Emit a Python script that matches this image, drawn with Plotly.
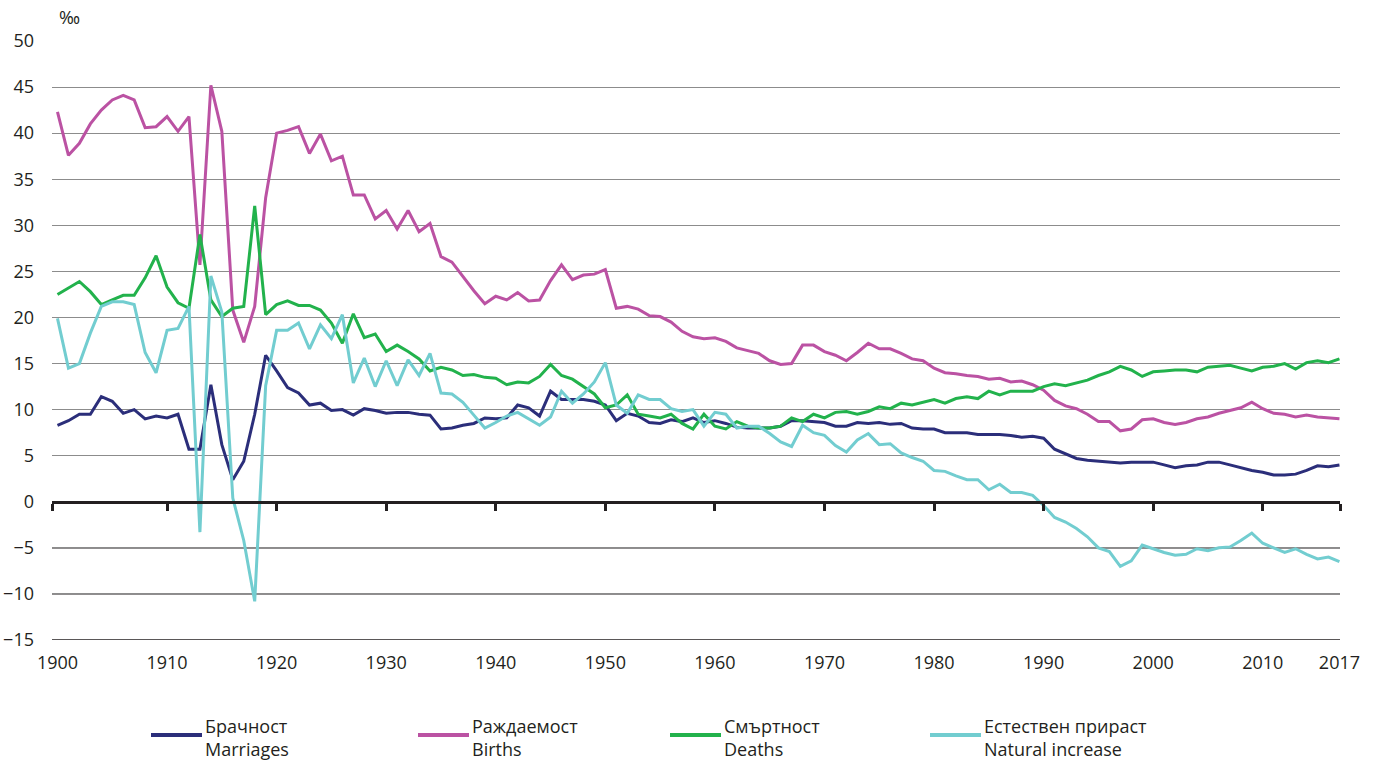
import plotly.graph_objects as go

years = list(range(1900, 2018))

marriages = [
    8.3, 8.8, 9.5, 9.5, 11.4, 10.9, 9.6, 10.0, 9.0, 9.3, 9.1, 9.5, 5.7, 5.7, 12.7, 6.2, 2.4, 4.4, 9.5, 15.9, 14.2,
    12.4, 11.8, 10.5, 10.7, 9.9, 10.0, 9.4, 10.1, 9.9, 9.6, 9.7, 9.7, 9.5, 9.4, 7.9, 8.0, 8.3, 8.5, 9.1, 9.0,
    9.1, 10.5, 10.2, 9.3, 12.0, 11.1, 11.1, 11.1, 10.9, 10.5, 8.8, 9.6, 9.3, 8.6, 8.5, 8.9, 8.7, 9.1, 8.6, 8.8,
    8.5, 8.1, 8.0, 8.0, 8.0, 8.2, 8.8, 8.8, 8.7, 8.6, 8.2, 8.2, 8.6, 8.5, 8.6, 8.4, 8.5, 8.0, 7.9, 7.9,
    7.5, 7.5, 7.5, 7.3, 7.3, 7.3, 7.2, 7.0, 7.1, 6.9, 5.7, 5.2, 4.7, 4.5, 4.4, 4.3, 4.2, 4.3, 4.3, 4.3,
    4.0, 3.7, 3.9, 4.0, 4.3, 4.3, 4.0, 3.7, 3.4, 3.2, 2.9, 2.9, 3.0, 3.4, 3.9, 3.8, 4.0,
]

births = [
    42.3, 37.6, 38.9, 41.0, 42.5, 43.6, 44.1, 43.6, 40.6, 40.7, 41.8, 40.2, 41.8, 25.7, 45.2, 40.2, 20.8, 17.3, 21.2, 33.0, 40.0,
    40.3, 40.7, 37.8, 39.9, 37.0, 37.5, 33.3, 33.3, 30.7, 31.6, 29.6, 31.6, 29.3, 30.2, 26.6, 26.0, 24.4, 22.9, 21.5, 22.3,
    21.9, 22.7, 21.8, 21.9, 24.0, 25.7, 24.1, 24.6, 24.7, 25.2, 21.0, 21.2, 20.9, 20.2, 20.1, 19.5, 18.5, 17.9, 17.7, 17.8,
    17.4, 16.7, 16.4, 16.1, 15.3, 14.9, 15.0, 17.0, 17.0, 16.3, 15.9, 15.3, 16.2, 17.2, 16.6, 16.6, 16.1, 15.5, 15.3, 14.5,
    14.0, 13.9, 13.7, 13.6, 13.3, 13.4, 13.0, 13.1, 12.7, 12.1, 11.0, 10.4, 10.1, 9.5, 8.7, 8.7, 7.7, 7.9, 8.9, 9.0,
    8.6, 8.4, 8.6, 9.0, 9.2, 9.6, 9.9, 10.2, 10.8, 10.1, 9.6, 9.5, 9.2, 9.4, 9.2, 9.1, 9.0,
]

deaths = [
    22.5, 23.2, 23.9, 22.8, 21.4, 21.9, 22.4, 22.4, 24.3, 26.7, 23.3, 21.6, 21.0, 29.0, 21.9, 20.1, 21.0, 21.2, 32.1, 20.3, 21.4,
    21.8, 21.3, 21.3, 20.8, 19.4, 17.2, 20.4, 17.8, 18.2, 16.3, 17.0, 16.3, 15.5, 14.2, 14.6, 14.3, 13.7, 13.8, 13.5, 13.4,
    12.7, 13.0, 12.9, 13.6, 14.9, 13.7, 13.3, 12.5, 11.7, 10.2, 10.5, 11.6, 9.5, 9.3, 9.1, 9.5, 8.5, 7.9, 9.5, 8.2,
    7.9, 8.7, 8.2, 8.0, 8.0, 8.2, 9.1, 8.7, 9.5, 9.1, 9.7, 9.8, 9.5, 9.8, 10.3, 10.1, 10.7, 10.5, 10.8, 11.1,
    10.7, 11.2, 11.4, 11.2, 12.0, 11.6, 12.0, 12.0, 12.0, 12.5, 12.8, 12.6, 12.9, 13.2, 13.7, 14.1, 14.7, 14.3, 13.6, 14.1,
    14.2, 14.3, 14.3, 14.1, 14.6, 14.7, 14.8, 14.5, 14.2, 14.6, 14.7, 15.0, 14.4, 15.1, 15.3, 15.1, 15.5,
]

natural_increase = [
    19.9, 14.5, 15.0, 18.3, 21.2, 21.7, 21.7, 21.4, 16.2, 14.0, 18.6, 18.8, 21.2, -3.3, 24.5, 20.6, 0.4, -4.2, -10.8, 12.6, 18.6,
    18.6, 19.4, 16.6, 19.2, 17.7, 20.3, 12.9, 15.6, 12.5, 15.3, 12.6, 15.4, 13.7, 16.1, 11.8, 11.7, 10.8, 9.4, 8.0, 8.6,
    9.3, 9.7, 9.0, 8.3, 9.2, 12.0, 10.7, 11.7, 13.0, 15.1, 10.5, 9.6, 11.6, 11.1, 11.1, 10.1, 9.8, 10.0, 8.2, 9.7,
    9.5, 8.0, 8.2, 8.2, 7.4, 6.5, 6.0, 8.3, 7.5, 7.2, 6.1, 5.4, 6.7, 7.4, 6.2, 6.3, 5.3, 4.8, 4.4, 3.4,
    3.3, 2.8, 2.4, 2.4, 1.3, 1.9, 1.0, 1.0, 0.7, -0.4, -1.7, -2.2, -2.9, -3.8, -5.0, -5.4, -7.0, -6.4, -4.7, -5.1,
    -5.5, -5.8, -5.7, -5.1, -5.3, -5.0, -4.9, -4.2, -3.4, -4.5, -5.0, -5.5, -5.1, -5.7, -6.2, -6.0, -6.5,
]

series_names = ["Брачност<br>Marriages", "Раждаемост<br>Births", "Смъртност<br>Deaths",
                "Естествен прираст<br>Natural increase"]
series_values = [marriages, births, deaths, natural_increase]
series_colors = ["#2b2e7a", "#bb52a3", "#22b24c", "#72cdd0"]

x_tick_vals = [1900, 1910, 1920, 1930, 1940, 1950, 1960, 1970, 1980, 1990, 2000, 2010, 2017]
x_tick_text = [str(v) for v in x_tick_vals]
y_tick_vals = list(range(-15, 55, 5))

FONT = "Open Sans"
TXT = "#231f20"

W, H = 1373, 760
ML, MR, MT, MB = 52, 33, 41, 120
PW = W - ML - MR
PH = H - MT - MB

def px_x(px):
    return (px - ML) / PW

def px_y(py):
    return (H - MB - py) / PH

fig = go.Figure()
for name, vals, col in zip(series_names, series_values, series_colors):
    fig.add_trace(go.Scatter(x=years, y=vals, mode="lines", name=name,
                             line=dict(color=col, width=3), showlegend=False))

xr = [1899.5, 2017.05]

fig.update_layout(
    width=W, height=H,
    margin=dict(l=ML, r=MR, t=MT, b=MB, autoexpand=False),
    paper_bgcolor="white", plot_bgcolor="white",
    font=dict(family=FONT, size=18, color=TXT),
    xaxis=dict(range=xr, tickvals=x_tick_vals, ticktext=x_tick_text, showgrid=False,
               zeroline=False, showline=False, ticks="", ticklabelstandoff=10,
               automargin=False, tickfont=dict(family=FONT, size=18, color=TXT)),
    xaxis2=dict(range=xr, matches="x", overlaying="x", anchor="free", position=15 / 65,
                side="bottom", showgrid=False, zeroline=False, showline=True,
                linecolor=TXT, linewidth=3, ticks="outside", ticklen=7, tickwidth=3,
                tickcolor=TXT, tickvals=[1899.5] + x_tick_vals[1:-1] + [2017.05],
                showticklabels=False, automargin=False),
    yaxis=dict(range=[-15, 50], tickvals=y_tick_vals, showgrid=True, gridcolor="#8c8c8c",
               gridwidth=1.4, zeroline=False, showline=False, ticks="",
               ticklabelstandoff=17, automargin=False,
               tickfont=dict(family=FONT, size=18, color=TXT)),
)

# invisible helper trace so the zero-line axis (x2) is rendered
fig.add_trace(go.Scatter(x=[years[0]], y=[marriages[0]], xaxis="x2", mode="lines",
                         line=dict(width=0), hoverinfo="skip", showlegend=False))

shapes = []
for v in [-5, -10, -15]:
    shapes.append(dict(type="line", xref="paper", yref="y", x0=0, x1=1, y0=v, y1=v,
                       line=dict(color=TXT, width=1.3), layer="below"))

legend_line_x = [151, 418, 670, 930]
legend_line_len = 51
annotations = []
for lx, name, col in zip(legend_line_x, series_names, series_colors):
    shapes.append(dict(type="line", xref="paper", yref="paper",
                       x0=px_x(lx), x1=px_x(lx + legend_line_len),
                       y0=px_y(735), y1=px_y(735), line=dict(color=col, width=4)))
    annotations.append(dict(text=name, xref="paper", yref="paper",
                            x=px_x(lx + legend_line_len + 1), y=px_y(737),
                            xanchor="left", yanchor="middle", align="left", showarrow=False,
                            font=dict(family=FONT, size=18, color=TXT)))

annotations.append(dict(text="‰", xref="paper", yref="paper", x=px_x(57), y=px_y(17),
                        xanchor="left", yanchor="middle", showarrow=False,
                        font=dict(family=FONT, size=18, color=TXT)))

fig.update_layout(shapes=shapes, annotations=annotations)

fig.write_html("out.html", config={"displayModeBar": False},
               post_script="document.body.style.margin='0';")
